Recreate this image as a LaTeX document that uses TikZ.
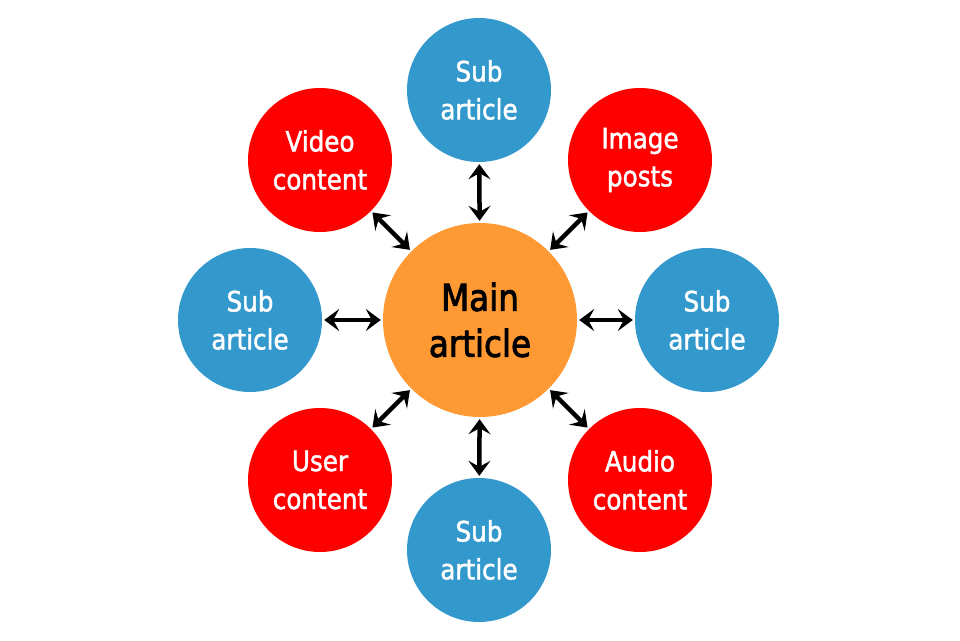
\documentclass[tikz,border=0pt]{standalone}
\usepackage{fontspec}
\setmainfont{DejaVu Sans}[FakeStretch=0.88,FakeBold=1.6]
\newfontfamily\mainfnt{DejaVu Sans}[FakeStretch=0.88,FakeBold=2.4]
\usetikzlibrary{arrows.meta}
\definecolor{subblue}{RGB}{51,153,204}
\definecolor{contred}{RGB}{255,0,0}
\definecolor{mainorange}{RGB}{255,153,51}
\begin{document}
\begin{tikzpicture}[x=1pt,y=-1pt,
  sat/.style={circle,minimum size=144pt,inner sep=0pt,text=white,align=center,
    font=\fontsize{28}{38}\selectfont},
  subnode/.style={sat,fill=subblue},
  contnode/.style={sat,fill=contred},
  mainnode/.style={circle,minimum size=194pt,inner sep=0pt,fill=mainorange,text=black,
    align=center,font=\mainfnt\fontsize{37}{46}\selectfont},
  link/.style={{Stealth[length=15pt,width=22pt,inset=6pt]}-{Stealth[length=15pt,width=22pt,inset=6pt]},
    line width=4.5pt,black,shorten <=2pt,shorten >=2pt}]
\useasboundingbox (0,0) rectangle (960,640);
\node[mainnode] (main) at (480,320) {Main\\article};
\node[subnode] (top) at (479,90) {Sub\\article};
\node[subnode] (left) at (250,320) {Sub\\article};
\node[subnode] (right) at (707,320) {Sub\\article};
\node[subnode] (bottom) at (479,550) {Sub\\article};
\node[contnode] (video) at (320,160) {Video\\content};
\node[contnode] (image) at (640,160) {Image\\posts};
\node[contnode] (user) at (320,480) {User\\content};
\node[contnode] (audio) at (640,480) {Audio\\content};
\draw[link] (top) -- (main);
\draw[link] (left) -- (main);
\draw[link] (right) -- (main);
\draw[link] (bottom) -- (main);
\draw[link] (video) -- (main);
\draw[link] (image) -- (main);
\draw[link] (user) -- (main);
\draw[link] (audio) -- (main);
\end{tikzpicture}
\end{document}
